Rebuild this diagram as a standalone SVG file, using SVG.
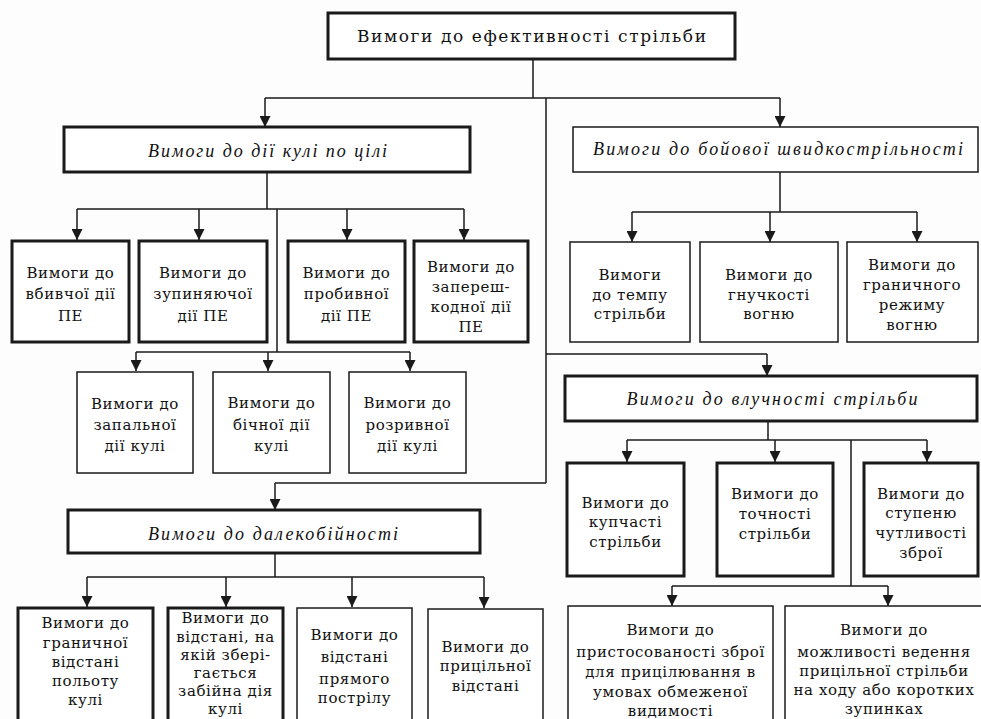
<svg xmlns="http://www.w3.org/2000/svg" width="981" height="719" viewBox="0 0 981 719">
<style>
.bg{fill:#fdfdfd}
.b{fill:#fff;stroke:#1a1a1a;stroke-width:1.5}
.bt{fill:#fff;stroke:#1a1a1a;stroke-width:3}
.t{font-family:"DejaVu Serif","Liberation Serif",serif;font-size:15px;fill:#111;text-anchor:middle;letter-spacing:0.6px}
.h{font-family:"Liberation Serif","DejaVu Serif",serif;font-style:italic;font-size:18px;fill:#111;text-anchor:middle}
.ttl{font-family:"DejaVu Serif","Liberation Serif",serif;font-size:17px;fill:#111;text-anchor:middle}
.c{fill:none;stroke:#1a1a1a;stroke-width:1.5}
.a{fill:none;stroke:#1a1a1a;stroke-width:1.5;marker-end:url(#ah)}
</style>
<defs>
<marker id="ah" viewBox="0 0 10 10" refX="10" refY="5" markerWidth="11" markerHeight="11" markerUnits="userSpaceOnUse" orient="auto">
<path d="M0,0 L10,5 L0,10 z" fill="#1a1a1a"/>
</marker>
</defs>
<rect class="bg" x="0" y="0" width="981" height="719"/>

<g id="connectors">
<path class="c" d="M533,59 V98 M265,98 H780 M546,98 V483 M546,354 H767 M546,483 H275"/>
<path class="a" d="M265,98 V127"/>
<path class="a" d="M780,98 V127"/>
<path class="a" d="M767,354 V376"/>
<path class="a" d="M275,483 V510"/>
<!-- дії кулі -->
<path class="c" d="M267,172 V209 M77,209 H464 M277,209 V352 M136,352 H410"/>
<path class="a" d="M77,209 V240"/>
<path class="a" d="M199,209 V240"/>
<path class="a" d="M347,209 V240"/>
<path class="a" d="M464,209 V240"/>
<path class="a" d="M136,352 V371"/>
<path class="a" d="M268,352 V371"/>
<path class="a" d="M410,352 V371"/>
<!-- швидкострільність -->
<path class="c" d="M780,172 V212 M632,212 H917"/>
<path class="a" d="M632,212 V242"/>
<path class="a" d="M770,212 V242"/>
<path class="a" d="M917,212 V242"/>
<!-- влучність -->
<path class="c" d="M768,421 V440 M627,440 H927 M851,440 V586 M672,586 H888"/>
<path class="a" d="M627,440 V462"/>
<path class="a" d="M775,440 V462"/>
<path class="a" d="M927,440 V462"/>
<path class="a" d="M672,586 V606"/>
<path class="a" d="M888,586 V606"/>
<!-- далекобійність -->
<path class="c" d="M275,553 V577 M87,577 H484"/>
<path class="a" d="M87,577 V607"/>
<path class="a" d="M226,577 V607"/>
<path class="a" d="M352,577 V607"/>
<path class="a" d="M484,577 V608"/>
</g>

<g id="n-root">
<rect class="bt" x="328" y="13" width="407" height="46"/>
<text class="ttl" x="531.5" y="42" textLength="349" lengthAdjust="spacing">Вимоги до ефективності стрільби</text>
</g>

<g id="n-dia">
<rect class="bt" x="64" y="127" width="406" height="45"/>
<text class="h" x="267.5" y="157" textLength="239" lengthAdjust="spacing">Вимоги до дії кулі по цілі</text>
</g>
<g id="n-vbyv">
<rect class="bt" x="12" y="241" width="117" height="101"/>
<text class="t" x="70.5"><tspan x="70.5" y="278">Вимоги до</tspan><tspan x="70.5" y="299">вбивчої дії</tspan><tspan x="70.5" y="321">ПЕ</tspan></text>
</g>
<g id="n-zupyn">
<rect class="bt" x="139" y="241" width="128" height="101"/>
<text class="t" x="203"><tspan x="203" y="278">Вимоги до</tspan><tspan x="203" y="299">зупиняючої</tspan><tspan x="203" y="321">дії ПЕ</tspan></text>
</g>
<g id="n-probyv">
<rect class="bt" x="288" y="241" width="117" height="101"/>
<text class="t" x="346.5"><tspan x="346.5" y="278">Вимоги до</tspan><tspan x="346.5" y="299">пробивної</tspan><tspan x="346.5" y="321">дії ПЕ</tspan></text>
</g>
<g id="n-zapersh">
<rect class="bt" x="414" y="241" width="114" height="101"/>
<text class="t" x="471"><tspan x="471" y="272">Вимоги до</tspan><tspan x="471" y="292">запереш-</tspan><tspan x="471" y="312">кодної дії</tspan><tspan x="471" y="332">ПЕ</tspan></text>
</g>
<g id="n-zapal">
<rect class="b" x="77" y="372" width="116" height="101"/>
<text class="t" x="135"><tspan x="135" y="409">Вимоги до</tspan><tspan x="135" y="430">запальної</tspan><tspan x="135" y="451">дії кулі</tspan></text>
</g>
<g id="n-bichn">
<rect class="b" x="213" y="372" width="117" height="101"/>
<text class="t" x="271.5"><tspan x="271.5" y="408">Вимоги до</tspan><tspan x="271.5" y="430">бічної дії</tspan><tspan x="271.5" y="451">кулі</tspan></text>
</g>
<g id="n-rozryv">
<rect class="b" x="349" y="372" width="117" height="101"/>
<text class="t" x="407.5"><tspan x="407.5" y="408">Вимоги до</tspan><tspan x="407.5" y="430">розривної</tspan><tspan x="407.5" y="451">дії кулі</tspan></text>
</g>

<g id="n-shvyd">
<rect class="b" x="573" y="127" width="405" height="45"/>
<text class="h" x="778" y="155" textLength="370" lengthAdjust="spacing">Вимоги до бойової швидкострільності</text>
</g>
<g id="n-temp">
<rect class="b" x="570" y="242" width="120" height="100"/>
<text class="t" x="630"><tspan x="630" y="280">Вимоги</tspan><tspan x="630" y="300">до темпу</tspan><tspan x="630" y="319">стрільби</tspan></text>
</g>
<g id="n-gnuch">
<rect class="b" x="700" y="242" width="138" height="100"/>
<text class="t" x="769"><tspan x="769" y="280">Вимоги до</tspan><tspan x="769" y="300">гнучкості</tspan><tspan x="769" y="319">вогню</tspan></text>
</g>
<g id="n-granrez">
<rect class="b" x="847" y="242" width="131" height="100"/>
<text class="t" x="912"><tspan x="912" y="270">Вимоги до</tspan><tspan x="912" y="290">граничного</tspan><tspan x="912" y="310">режиму</tspan><tspan x="912" y="330">вогню</tspan></text>
</g>

<g id="n-vluch">
<rect class="bt" x="565" y="376" width="412" height="45"/>
<text class="h" x="772" y="405" textLength="291" lengthAdjust="spacing">Вимоги до влучності стрільби</text>
</g>
<g id="n-kupch">
<rect class="bt" x="567" y="463" width="117" height="113"/>
<text class="t" x="625.5"><tspan x="625.5" y="508">Вимоги до</tspan><tspan x="625.5" y="527">купчасті</tspan><tspan x="625.5" y="547">стрільби</tspan></text>
</g>
<g id="n-tochn">
<rect class="bt" x="717" y="463" width="116" height="113"/>
<text class="t" x="775"><tspan x="775" y="499">Вимоги до</tspan><tspan x="775" y="519">точності</tspan><tspan x="775" y="539">стрільби</tspan></text>
</g>
<g id="n-chutl">
<rect class="bt" x="864" y="463" width="114" height="113"/>
<text class="t" x="921"><tspan x="921" y="499">Вимоги до</tspan><tspan x="921" y="518">ступеню</tspan><tspan x="921" y="538">чутливості</tspan><tspan x="921" y="558">зброї</tspan></text>
</g>
<g id="n-prystos">
<rect class="b" x="568" y="606" width="205" height="120"/>
<text class="t" x="670.5"><tspan x="670.5" y="635">Вимоги до</tspan><tspan x="670.5" y="657">пристосованості зброї</tspan><tspan x="670.5" y="677">для прицілювання в</tspan><tspan x="670.5" y="697">умовах обмеженої</tspan><tspan x="670.5" y="716">видимості</tspan></text>
</g>
<g id="n-mozhl">
<rect class="b" x="785" y="606" width="205" height="120"/>
<text class="t" x="884"><tspan x="884" y="635">Вимоги до</tspan><tspan x="884" y="657">можливості ведення</tspan><tspan x="884" y="676">прицільної стрільби</tspan><tspan x="884" y="695">на ходу або коротких</tspan><tspan x="884" y="714">зупинках</tspan></text>
</g>

<g id="n-dalek">
<rect class="bt" x="68" y="510" width="412" height="43"/>
<text class="h" x="273" y="540" textLength="250" lengthAdjust="spacing">Вимоги до далекобійності</text>
</g>
<g id="n-granvid">
<rect class="bt" x="18" y="608" width="135" height="120"/>
<text class="t" x="85.5"><tspan x="85.5" y="628">Вимоги до</tspan><tspan x="85.5" y="648">граничної</tspan><tspan x="85.5" y="667">відстані</tspan><tspan x="85.5" y="686">польоту</tspan><tspan x="85.5" y="705">кулі</tspan></text>
</g>
<g id="n-zabiyn">
<rect class="bt" x="168" y="608" width="115" height="120"/>
<text class="t" x="225.5"><tspan x="225.5" y="623">Вимоги до</tspan><tspan x="225.5" y="642">відстані, на</tspan><tspan x="225.5" y="660">якій збері-</tspan><tspan x="225.5" y="678">гається</tspan><tspan x="225.5" y="696">забійна дія</tspan><tspan x="225.5" y="714">кулі</tspan></text>
</g>
<g id="n-pryam">
<rect class="b" x="297" y="608" width="115" height="120"/>
<text class="t" x="354.5"><tspan x="354.5" y="640">Вимоги до</tspan><tspan x="354.5" y="662">відстані</tspan><tspan x="354.5" y="684">прямого</tspan><tspan x="354.5" y="703">пострілу</tspan></text>
</g>
<g id="n-prycil">
<rect class="b" x="428" y="609" width="115" height="120"/>
<text class="t" x="485.5"><tspan x="485.5" y="652">Вимоги до</tspan><tspan x="485.5" y="671">прицільної</tspan><tspan x="485.5" y="691">відстані</tspan></text>
</g>
</svg>
